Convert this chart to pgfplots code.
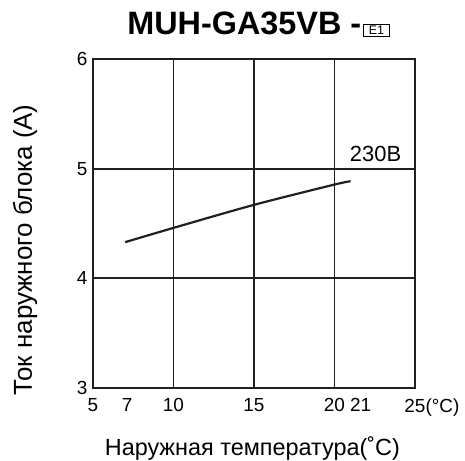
\documentclass[border=0pt]{standalone}
\usepackage{fontspec}
\setmainfont{Liberation Sans}
\usepackage{pgfplots}
\pgfplotsset{compat=1.18}
\definecolor{ink}{HTML}{231F20}
\begin{document}
\begin{tikzpicture}
\begin{axis}[
  scale only axis,
  width=322bp, height=329bp,
  xmin=5, xmax=25, ymin=3, ymax=6,
  axis line style={ink, line width=1.8bp},
  xtick={10,15,20,25},
  xticklabels={10,15,20,{25\rlap{(°C)}}},
  extra x ticks={5,7,21},
  extra x tick labels={5,\hspace*{4bp}7,\hspace*{20bp}21},
  extra x tick style={grid=none},
  ytick={3,4,5,6},
  major tick length=0pt,
  grid=major,
  major grid style={ink, line width=1.8bp},
  /pgf/number format/assume math mode=true,
  tick label style={font=\fontsize{19}{22}\selectfont, text=black},
  xticklabel style={yshift=-7bp},
  yticklabel style={xshift=-2bp},
  xlabel={Наружная температура(˚C)},
  ylabel={Ток наружного блока (A)},
  label style={font=\fontsize{23.5}{26}\selectfont},
  xlabel style={at={(rel axis cs:0.495,0)}, anchor=base, yshift=-67bp},
  ylabel style={at={(rel axis cs:0,0.42)}, anchor=base, yshift=61bp, font=\fontsize{26}{29}\selectfont},
  clip=false,
]
\addplot[ink, line width=2.2bp, smooth] coordinates {
  (7,4.33) (10,4.46) (15,4.67) (20,4.855) (21,4.885)
};
\node[anchor=base, font=\fontsize{22}{24}\selectfont, inner sep=0pt] at (axis cs:22.55,5.065) {230B};
\node[anchor=base west, inner sep=0pt] at (rel axis cs:0.106,1.0) [yshift=24bp]
  {\fontsize{32.5}{36}\selectfont\bfseries MUH-GA35VB -\hspace{2bp}\raisebox{0bp}{\fboxsep=1.5pt\fboxrule=0.8pt\fbox{\makebox[22bp]{\fontsize{12.5}{13}\selectfont\mdseries E1}}}};
\end{axis}
\pgfresetboundingbox
\useasboundingbox (-93bp,-73bp) rectangle (372bp,388bp);
\end{tikzpicture}
\end{document}
